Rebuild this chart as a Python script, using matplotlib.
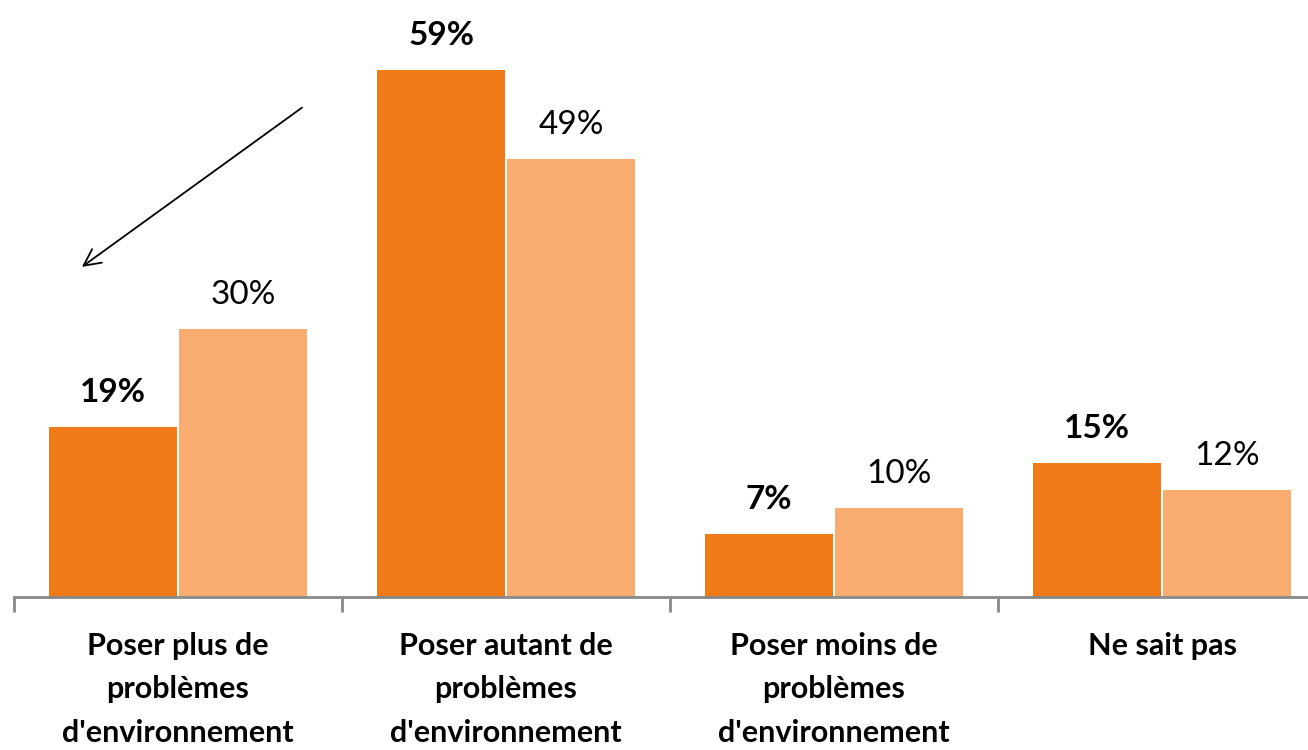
import matplotlib
matplotlib.use("Agg")
import matplotlib.pyplot as plt
import numpy as np

categories = ["Poser plus de\nproblèmes\nd'environnement",
              "Poser autant de\nproblèmes\nd'environnement",
              "Poser moins de\nproblèmes\nd'environnement",
              "Ne sait pas"]
series_a = [19, 59, 7, 15]
series_b = [30, 49, 10, 12]
color_a = "#EF7A17"
color_b = "#F9AC6F"

plt.rcParams['font.family'] = ['Lato', 'DejaVu Sans']

fig = plt.figure(figsize=(13.08, 7.5), dpi=100)
left = 14 / 1308
bottom = (750 - 597) / 750
ax = fig.add_axes([left, bottom, 1 - left, 1 - bottom])

x = np.arange(len(categories))
w = 0.39
gap = 0.003
ax.bar(x - w / 2 - gap, series_a, width=w, color=color_a, zorder=2)
ax.bar(x + w / 2 + gap, series_b, width=w, color=color_b, zorder=2)

for xi, a, b in zip(x, series_a, series_b):
    ax.text(xi - w / 2 - gap, a + 2.8, f"{a}%", ha='center', va='baseline',
            fontsize=24, fontweight='bold', color='black')
    ax.text(xi + w / 2 + gap, b + 2.8, f"{b}%", ha='center', va='baseline',
            fontsize=24, fontweight='normal', color='black')

for s in ['top', 'right', 'left']:
    ax.spines[s].set_visible(False)
ax.spines['bottom'].set_color('#888888')
ax.spines['bottom'].set_linewidth(2)
ax.set_yticks([])
ax.set_xticks(np.arange(-0.5, 3.6, 1.0))
ax.set_xticklabels([])
ax.tick_params(axis='x', direction='out', length=10.5, width=2, color='#888888')
ax.set_xticks(x, minor=True)
ax.set_xticklabels(categories, minor=True, fontsize=22, fontweight='bold',
                   linespacing=1.68, va='top')
ax.tick_params(axis='x', which='minor', length=0, pad=25)

ax.set_xlim(-0.5, -0.5 + (1308 - 14) / 328)
ax.set_ylim(0, 597 / 8.93)

ax.annotate("", xy=(-0.293, 36.97), xytext=(0.378, 54.8),
            arrowprops=dict(arrowstyle='->', color='black', lw=1.3,
                            mutation_scale=30, shrinkA=0, shrinkB=0))

fig.savefig("out.png", dpi=100)
